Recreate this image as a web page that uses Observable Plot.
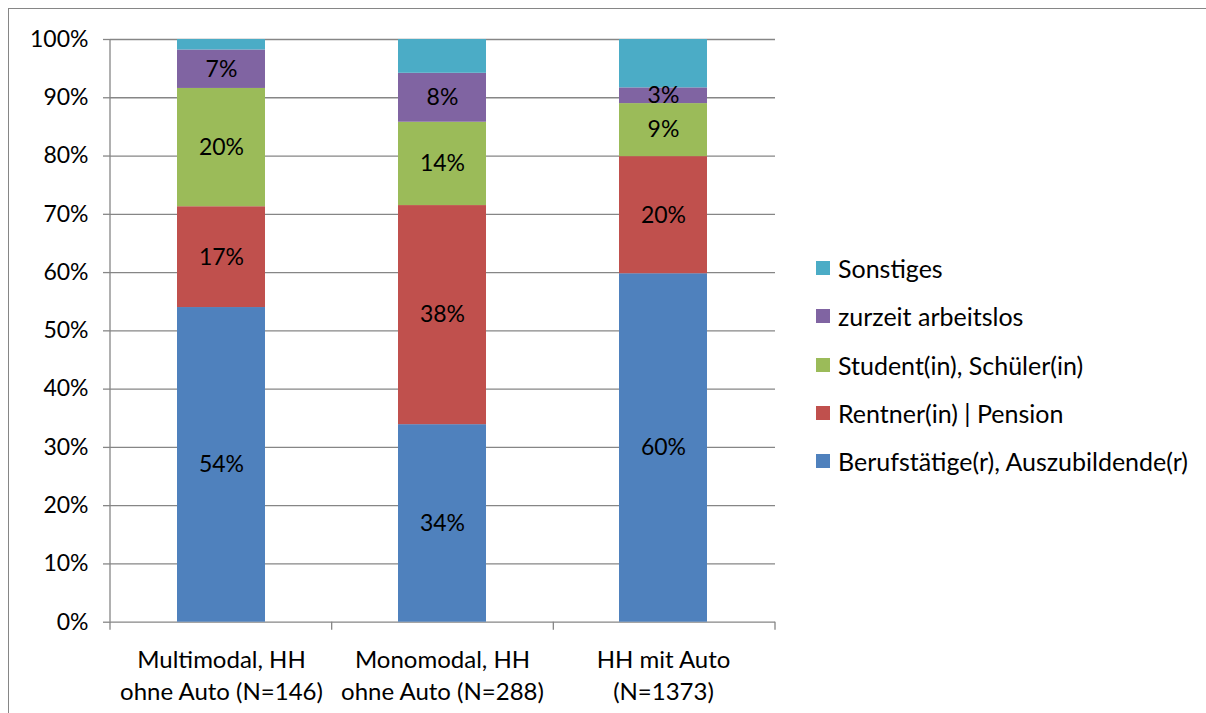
<!DOCTYPE html>
<html><head><meta charset="utf-8">
<script src="https://cdn.jsdelivr.net/npm/d3@7"></script>
<script src="https://cdn.jsdelivr.net/npm/@observablehq/plot@0.6"></script>
<style>
body{margin:0;overflow:hidden;background:#fff;font-family:Lato,sans-serif;}
#frame{position:absolute;left:8px;top:8px;width:1300px;height:800px;border:1px solid #868686;}
#chart{position:absolute;left:0;top:0;}
#legend{position:absolute;left:816px;top:244px;font-size:25px;color:#000;}
.item{display:flex;align-items:center;height:48.3px;white-space:nowrap;}
.sw{width:14px;height:14px;margin-right:8px;flex:none;}
</style></head><body>
<div id="frame"></div><div id="chart"></div><div id="legend"></div>
<script>
const categories = ["Multimodal, HH\nohne Auto (N=146)", "Monomodal, HH\nohne Auto (N=288)", "HH mit Auto\n(N=1373)"];
const series = ["Berufstätige(r), Auszubildende(r)", "Rentner(in) | Pension", "Student(in), Schüler(in)", "zurzeit arbeitslos", "Sonstiges"];
const colors = ["#4F81BD", "#C0504D", "#9BBB59", "#8064A2", "#4BACC6"];
const beruf = [54.0, 33.9, 59.8];
const rentner = [17.3, 37.6, 20.1];
const student = [20.3, 14.3, 9.1];
const arbeitslos = [6.6, 8.4, 2.7];
const sonstiges = [1.8, 5.8, 8.3];
const yTicks = [0, 10, 20, 30, 40, 50, 60, 70, 80, 90, 100];

const seriesValues = [beruf, rentner, student, arbeitslos, sonstiges];
const rows = [];
categories.forEach((c, i) => series.forEach((s, j) => rows.push({cat: c, series: s, value: seriesValues[j][i]})));

const gray = "#868686";

const boundaryMark = (index, scales, values, dims) => {
  const y = scales.y;
  const left = dims.marginLeft, right = dims.width - dims.marginRight;
  const n = categories.length;
  const g = d3.create("svg:g").attr("stroke", gray).attr("stroke-width", 1.3);
  g.append("line").attr("x1", left).attr("x2", left).attr("y1", y(100)).attr("y2", y(0));
  d3.range(n + 1).forEach(k => {
    const bx = left + k * (right - left) / n;
    g.append("line").attr("x1", bx).attr("x2", bx).attr("y1", y(0)).attr("y2", y(0) + 8);
  });
  return g.node();
};

const chart = Plot.plot({
  width: 1206,
  height: 713,
  marginLeft: 110,
  marginRight: 431,
  marginTop: 39,
  marginBottom: 91.3,
  style: {fontFamily: "Lato, sans-serif", fontSize: "24px", color: "#000", background: "transparent"},
  x: {domain: categories, paddingInner: 0.6, paddingOuter: 0.3, label: null},
  y: {domain: [0, 100], label: null},
  color: {domain: series, range: colors},
  marks: [
    Plot.gridY(yTicks, {stroke: gray, strokeOpacity: 1, strokeWidth: 1.3}),
    Plot.barY(rows, {x: "cat", y: "value", fill: "series", order: series}),
    Plot.text(rows, Plot.stackY({x: "cat", y: "value", z: "series", order: series,
      text: d => d.series === "Sonstiges" ? null : Math.round(d.value) + "%",
      fontSize: 23, fill: "#000"})),
    Plot.axisY({ticks: yTicks, tickSize: 7, tickPadding: 15, stroke: gray, strokeWidth: 1.3, fill: "#000", fontSize: 23, tickFormat: d => d + "%", label: null}),
    Plot.axisX({tickSize: 0, tickPadding: 24, fontSize: 24, fill: "#000", lineHeight: 1.3, label: null}),
    boundaryMark
  ]
});
document.getElementById("chart").appendChild(chart);

const legend = document.getElementById("legend");
series.slice().reverse().forEach(s => {
  const it = document.createElement("div");
  it.className = "item";
  const sw = document.createElement("span");
  sw.className = "sw";
  sw.style.background = colors[series.indexOf(s)];
  const t = document.createElement("span");
  t.textContent = s;
  it.appendChild(sw); it.appendChild(t);
  legend.appendChild(it);
});
</script>
</body></html>
